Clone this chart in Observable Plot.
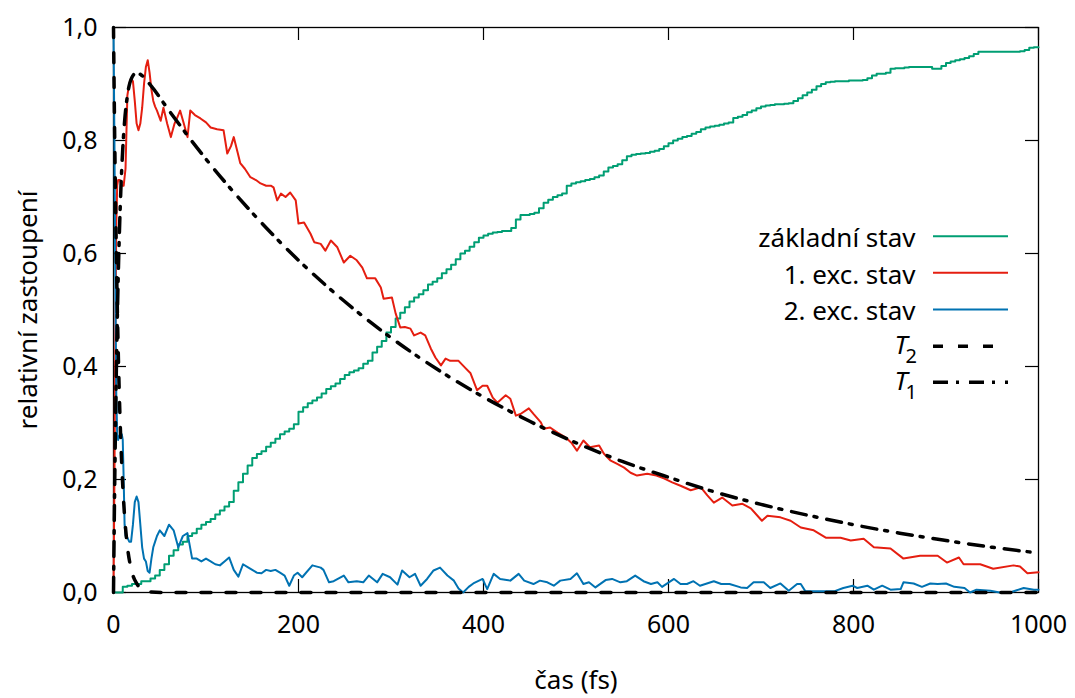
<!DOCTYPE html>
<html>
<head>
<meta charset="utf-8">
<script src="https://cdn.jsdelivr.net/npm/d3@7"></script>
<script src="https://cdn.jsdelivr.net/npm/@observablehq/plot@0.6"></script>
<style>
  html, body { margin: 0; padding: 0; background: #fff; }
  #chart { width: 1075px; height: 698px; }
</style>
</head>
<body>
<div id="chart"></div>
<script>
// ---- tick values ----
const xTicks = [0, 200, 400, 600, 800, 1000];
const yTicks = [0, 0.2, 0.4, 0.6, 0.8, 1.0];

// ---- legend / axis texts ----
const xLabel = "čas (fs)";
const yLabel = "relativní zastoupení";
const seriesNames = ["základní stav", "1. exc. stav", "2. exc. stav"];
const fitNames = ["T", "T"];
const fitSubscripts = ["2", "1"];

// ---- základní stav (ground state), sampled every 5 fs ----
const groundTime = d3.range(0, 1001, 5);
const ground = [
  0,0,0.01,0.012,0.015,0.015,0.02,0.02,0.025,0.03,0.04,0.05,0.065,0.075,0.085,0.09,0.1,0.105,0.113,0.12,
  0.125,0.13,0.138,0.145,0.152,0.16,0.18,0.195,0.21,0.225,0.238,0.245,0.25,0.258,0.265,0.272,0.28,0.285,0.29,0.298,
  0.32,0.328,0.335,0.34,0.345,0.352,0.36,0.365,0.37,0.378,0.385,0.39,0.393,0.397,0.405,0.41,0.425,0.435,0.445,0.46,
  0.47,0.485,0.495,0.505,0.515,0.522,0.528,0.535,0.545,0.55,0.556,0.565,0.572,0.58,0.59,0.6,0.605,0.612,0.62,0.628,
  0.632,0.635,0.637,0.638,0.64,0.64,0.645,0.66,0.668,0.668,0.67,0.672,0.68,0.69,0.695,0.7,0.703,0.706,0.72,0.724,
  0.726,0.728,0.73,0.732,0.735,0.738,0.745,0.752,0.755,0.758,0.765,0.772,0.775,0.776,0.777,0.778,0.78,0.782,0.785,0.79,
  0.795,0.8,0.803,0.806,0.808,0.812,0.815,0.82,0.823,0.825,0.826,0.828,0.83,0.832,0.84,0.842,0.845,0.85,0.853,0.857,
  0.86,0.862,0.863,0.864,0.864,0.865,0.866,0.87,0.875,0.88,0.885,0.89,0.896,0.9,0.903,0.904,0.905,0.905,0.905,0.906,
  0.906,0.906,0.907,0.91,0.915,0.918,0.918,0.92,0.927,0.928,0.928,0.929,0.93,0.93,0.93,0.93,0.93,0.927,0.927,0.932,
  0.937,0.94,0.942,0.944,0.946,0.949,0.953,0.957,0.957,0.957,0.957,0.957,0.957,0.957,0.957,0.957,0.958,0.96,0.964,0.965,
  0.965
];

// ---- 1. exc. stav: [time fs, population] ----
const exc1Points = [
  [0,0],[1,0.2],[2,0.45],[3,0.65],[4,0.72],[5,0.73],[7,0.73],[9,0.72],[11,0.72],[13,0.75],
  [15,0.88],[17,0.9],[19,0.91],[21,0.905],[23,0.87],[25,0.83],[27,0.818],[29,0.83],[31,0.858],[33,0.9],
  [35,0.93],[37,0.942],[39,0.92],[41,0.89],[43,0.87],[45,0.86],[47,0.853],[51,0.835],[54,0.858],[58,0.83],
  [62,0.806],[66,0.83],[69,0.841],[72,0.853],[76,0.83],[80,0.806],[83,0.853],[88,0.845],[94,0.839],[100,0.832],
  [105,0.823],[112,0.82],[119,0.818],[123,0.777],[127,0.79],[130,0.806],[134,0.78],[137,0.76],[142,0.75],[148,0.735],
  [154,0.73],[159,0.724],[165,0.72],[170,0.72],[173,0.717],[177,0.694],[181,0.706],[186,0.7],[191,0.708],[197,0.694],
  [200,0.653],[206,0.655],[213,0.635],[217,0.62],[224,0.617],[229,0.605],[235,0.623],[242,0.611],[249,0.584],[256,0.596],
  [263,0.588],[269,0.575],[274,0.556],[283,0.556],[289,0.54],[292,0.52],[301,0.522],[305,0.494],[310,0.469],[315,0.47],
  [321,0.467],[325,0.455],[332,0.46],[337,0.455],[343,0.432],[348,0.416],[354,0.402],[359,0.414],[364,0.41],[373,0.41],
  [380,0.398],[386,0.388],[393,0.358],[399,0.366],[404,0.366],[410,0.345],[415,0.336],[424,0.349],[429,0.343],[435,0.313],
  [440,0.316],[449,0.326],[454,0.316],[462,0.301],[465,0.29],[472,0.292],[480,0.283],[489,0.274],[495,0.265],[501,0.251],
  [508,0.269],[515,0.257],[525,0.26],[530,0.246],[537,0.234],[544,0.228],[552,0.221],[559,0.212],[566,0.207],[577,0.21],
  [587,0.207],[595,0.202],[604,0.195],[613,0.189],[624,0.181],[635,0.186],[642,0.172],[649,0.159],[658,0.168],[669,0.154],
  [680,0.157],[689,0.149],[701,0.127],[707,0.136],[721,0.133],[732,0.127],[743,0.115],[757,0.11],[770,0.097],[786,0.097],
  [797,0.092],[811,0.095],[822,0.08],[840,0.078],[854,0.06],[872,0.065],[891,0.065],[901,0.053],[914,0.062],[919,0.05],
  [937,0.05],[951,0.042],[973,0.048],[980,0.046],[988,0.034],[1000,0.036]
];

// ---- 2. exc. stav: [time fs, population] ----
const exc2Points = [
  [0,1],[1,0.8],[2,0.55],[3,0.35],[4,0.28],[5,0.27],[7,0.28],[9,0.28],[10,0.27],[11,0.2],
  [12,0.12],[13,0.1],[15,0.097],[17,0.09],[19,0.09],[21,0.12],[23,0.16],[25,0.17],[27,0.16],[29,0.12],
  [31,0.08],[33,0.06],[35,0.055],[37,0.038],[39,0.035],[41,0.06],[43,0.08],[45,0.09],[47,0.1],[50,0.11],
  [55,0.1],[60,0.12],[65,0.11],[70,0.08],[75,0.1],[80,0.105],[85,0.06],[90,0.06],[95,0.055],[100,0.06],
  [105,0.055],[110,0.05],[115,0.048],[120,0.055],[125,0.062],[130,0.04],[135,0.028],[140,0.05],[145,0.045],[150,0.04],
  [155,0.035],[160,0.034],[165,0.04],[170,0.038],[175,0.04],[180,0.035],[185,0.03],[190,0.012],[195,0.03],[199,0.035],
  [204,0.027],[215,0.048],[224,0.044],[227,0.04],[233,0.018],[238,0.02],[249,0.03],[254,0.018],[263,0.02],[270,0.018],
  [276,0.03],[285,0.018],[291,0.033],[299,0.027],[307,0.014],[312,0.039],[320,0.027],[326,0.033],[332,0.012],[339,0.024],
  [346,0.039],[353,0.044],[361,0.03],[368,0.021],[373,0.007],[378,0],[384,0.01],[389,0.016],[399,0.024],[404,0.006],
  [411,0.033],[418,0.024],[429,0.021],[438,0.033],[444,0.021],[454,0.015],[461,0.021],[469,0.018],[476,0.012],[483,0.021],
  [494,0.024],[501,0.034],[508,0.015],[514,0.018],[521,0.009],[532,0.022],[539,0.024],[548,0.018],[555,0.02],[564,0.03],
  [573,0.02],[581,0.015],[588,0.018],[593,0.01],[606,0.024],[613,0.015],[620,0.015],[627,0.02],[634,0.012],[649,0.02],
  [657,0.015],[666,0.015],[678,0.009],[685,0.008],[692,0.018],[703,0.018],[710,0.008],[721,0.016],[730,0.003],[739,0.015],
  [743,0.015],[748,0.002],[761,0.002],[779,0.002],[789,0.008],[799,0.012],[804,0.008],[815,0.012],[822,0.005],[831,0.012],
  [840,0.005],[851,0.006],[854,0.018],[865,0.016],[874,0.01],[883,0.016],[891,0.015],[900,0.016],[909,0.01],[920,0.008],
  [926,0],[933,0.005],[948,0.003],[958,0],[969,0],[984,0.008],[995,0.005],[1000,0.005]
];

// ---- T2 fit (dashed): [time fs, value] ----
const t2Points = [
  [0,1],[1,0.846],[2,0.717],[3,0.607],[4,0.513],[5,0.435],[6,0.368],[8,0.264],[10,0.189],[12,0.135],
  [15,0.082],[20,0.036],[25,0.016],[30,0.007],[40,0.001],[60,0],[1000,0]
];

// ---- T1 fit (dash-dot): [time fs, value] ----
const t1Points = [
  [0,0],[1,0.151],[2,0.278],[3,0.385],[4,0.476],[5,0.552],[6,0.616],[8,0.715],[10,0.785],[12,0.834],
  [15,0.879],[20,0.912],[25,0.92],[30,0.916],[40,0.898],[60,0.853],[80,0.809],[100,0.767],[150,0.672],[200,0.588],
  [250,0.515],[300,0.451],[350,0.395],[400,0.346],[450,0.303],[500,0.265],[550,0.232],[600,0.204],[650,0.178],[700,0.156],
  [750,0.137],[800,0.12],[850,0.105],[900,0.092],[950,0.08],[1000,0.07]
];

// ---- styles ----
const colors = ["#009e73", "#e51e10", "#0072b2"];
const dashT2 = "10,15";
const dashT1 = "15,8,3,10";
const fs = 26;
const fsTick = 25;

const groundData = groundTime.map((t, i) => ({t, v: ground[i]}));
const toObj = p => ({t: p[0], v: p[1]});
const exc1Data = exc1Points.map(toObj);
const exc2Data = exc2Points.map(toObj);
const t2Data = t2Points.map(toObj);
const t1Data = t1Points.map(toObj);

const fmtY = d => d.toFixed(1).replace(".", ",");

// legend geometry (pixel offsets from top-right corner of frame)
const legTextDx = -123;
const legRowDy = [211.4, 247.9, 284.4];
const legLineDy = [208.7, 245.3, 282, 318.7, 354.7];
const fitRowDy = [318, 354];
const legInsetLeft = 820, legInsetRight = 30;

const marks = [
  // inward tick marks on all four sides
  Plot.ruleX(xTicks, {x: d => d, insetTop: 552, stroke: "black", strokeWidth: 1.2}),
  Plot.ruleX(xTicks, {x: d => d, insetBottom: 552, stroke: "black", strokeWidth: 1.2}),
  Plot.ruleY(yTicks, {y: d => d, insetRight: 912, stroke: "black", strokeWidth: 1.2}),
  Plot.ruleY(yTicks, {y: d => d, insetLeft: 912, stroke: "black", strokeWidth: 1.2}),
  Plot.frame({stroke: "black", strokeWidth: 1.3}),
  Plot.axisX(xTicks, {tickSize: 0, tickPadding: 23, fontSize: fsTick, label: null, tickFormat: d => String(d)}),
  Plot.axisY(yTicks, {tickSize: 0, tickPadding: 16, fontSize: fsTick, label: null, tickFormat: fmtY}),
  Plot.text([xLabel], {frameAnchor: "bottom", dy: 88, lineAnchor: "middle", textAnchor: "middle", fontSize: fs, text: d => d}),
  Plot.text([yLabel], {frameAnchor: "left", dx: -85, rotate: -90, lineAnchor: "middle", textAnchor: "middle", fontSize: fs, text: d => d}),

  // data
  Plot.line(groundData, {x: "t", y: "v", stroke: colors[0], strokeWidth: 2, curve: "step-after"}),
  Plot.line(exc1Data, {x: "t", y: "v", stroke: colors[1], strokeWidth: 2}),
  Plot.line(exc2Data, {x: "t", y: "v", stroke: colors[2], strokeWidth: 2}),
  Plot.line(t2Data, {x: "t", y: "v", stroke: "black", strokeWidth: 3.5, strokeDasharray: dashT2, curve: "monotone-x"}),
  Plot.line(t1Data, {x: "t", y: "v", stroke: "black", strokeWidth: 3.5, strokeDasharray: dashT1, curve: "monotone-x"}),
];

// legend
seriesNames.forEach((name, i) => {
  marks.push(Plot.text([name], {frameAnchor: "top-right", dx: legTextDx, dy: legRowDy[i], textAnchor: "end", lineAnchor: "middle", fontSize: fs, text: d => d}));
  marks.push(Plot.ruleY([1], {y: d => d, dy: legLineDy[i], insetLeft: legInsetLeft, insetRight: legInsetRight, stroke: colors[i], strokeWidth: 2}));
});
const fitDash = [dashT2, dashT1];
fitNames.forEach((name, j) => {
  const i = j + 3;
  marks.push(Plot.text([name], {frameAnchor: "top-right", dx: -131, dy: fitRowDy[j], textAnchor: "end", lineAnchor: "middle", fontSize: fs, fontStyle: "italic", text: d => d}));
  marks.push(Plot.text([fitSubscripts[j]], {frameAnchor: "top-right", dx: -133, dy: fitRowDy[j] + 11, textAnchor: "start", lineAnchor: "middle", fontSize: 20, text: d => d}));
  marks.push(Plot.ruleY([1], {y: d => d, dy: legLineDy[i], insetLeft: legInsetLeft, insetRight: legInsetRight, stroke: "black", strokeWidth: 3.5, strokeDasharray: fitDash[j]}));
});

const chart = Plot.plot({
  width: 1075,
  height: 698,
  marginLeft: 113,
  marginRight: 37,
  marginTop: 27,
  marginBottom: 106,
  x: {domain: [0, 1000], axis: null},
  y: {domain: [0, 1], axis: null},
  style: {fontFamily: "'Noto Sans', 'Open Sans', sans-serif", fontSize: fs + "px", background: "white", color: "black"},
  marks
});
document.getElementById("chart").appendChild(chart);
</script>
</body>
</html>
